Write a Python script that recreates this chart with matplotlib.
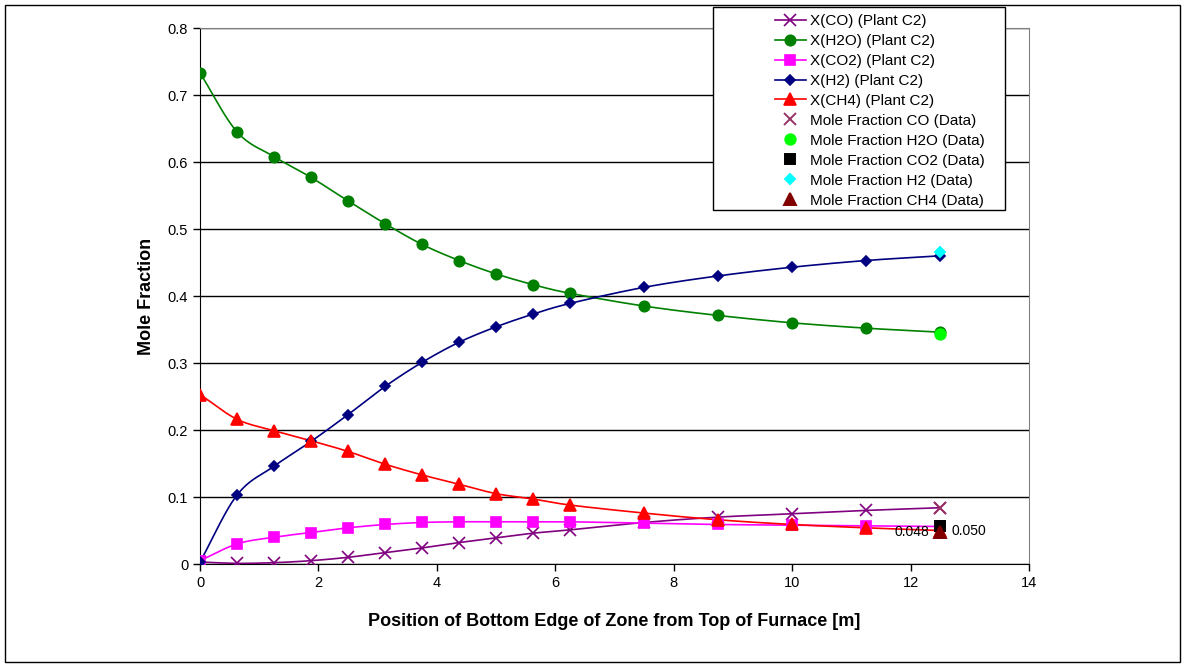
import numpy as np
import matplotlib
matplotlib.use("Agg")
import matplotlib.pyplot as plt
from matplotlib.patches import Rectangle

plt.rcParams['font.family'] = ['Liberation Sans', 'DejaVu Sans']

# Zone bottom-edge positions [m]
position = [0, 0.625, 1.25, 1.875, 2.5, 3.125, 3.75, 4.375, 5.0, 5.625,
            6.25, 7.5, 8.75, 10.0, 11.25, 12.5]

# Model mole fractions (Plant C2)
x_co = [0.003, 0.001, 0.002, 0.005, 0.010, 0.017, 0.024, 0.032, 0.039, 0.046,
        0.051, 0.062, 0.070, 0.075, 0.080, 0.084]
x_h2o = [0.733, 0.645, 0.608, 0.577, 0.542, 0.508, 0.477, 0.453, 0.433, 0.417,
         0.404, 0.385, 0.371, 0.360, 0.352, 0.346]
x_co2 = [0.005, 0.030, 0.040, 0.047, 0.054, 0.059, 0.062, 0.063, 0.063, 0.063,
         0.063, 0.061, 0.059, 0.058, 0.057, 0.056]
x_h2 = [0.003, 0.103, 0.146, 0.183, 0.223, 0.265, 0.301, 0.331, 0.354, 0.373,
        0.389, 0.413, 0.430, 0.443, 0.453, 0.460]
x_ch4 = [0.253, 0.216, 0.199, 0.184, 0.168, 0.149, 0.133, 0.119, 0.105, 0.097,
         0.088, 0.076, 0.066, 0.059, 0.054, 0.050]

# Measured outlet mole fractions
data_pos = 12.5
data_co = 0.084
data_h2o = 0.343
data_co2 = 0.057
data_h2 = 0.465
data_ch4 = 0.048


def smooth(xs, ys, n=20):
    """Catmull-Rom curve through the given points."""
    xs = np.asarray(xs, float)
    ys = np.asarray(ys, float)
    px = np.concatenate([[2 * xs[0] - xs[1]], xs, [2 * xs[-1] - xs[-2]]])
    py = np.concatenate([[2 * ys[0] - ys[1]], ys, [2 * ys[-1] - ys[-2]]])
    outx, outy = [], []
    t = np.linspace(0, 1, n, endpoint=False)
    for i in range(1, len(px) - 2):
        for arr, out in ((px, outx), (py, outy)):
            p0, p1, p2, p3 = arr[i - 1], arr[i], arr[i + 1], arr[i + 2]
            out.extend(0.5 * ((2 * p1) + (-p0 + p2) * t
                              + (2 * p0 - 5 * p1 + 4 * p2 - p3) * t ** 2
                              + (-p0 + 3 * p1 - 3 * p2 + p3) * t ** 3))
    outx.append(xs[-1])
    outy.append(ys[-1])
    return np.array(outx), np.array(outy)


W, H = 1185, 667
fig = plt.figure(figsize=(W / 100, H / 100), dpi=100)
fig.patches.append(Rectangle((0.004, 0.007), 0.992, 0.986, transform=fig.transFigure,
                             fill=False, edgecolor='black', linewidth=1.0))
ax = fig.add_axes([0.1688, 0.1544, 0.6996, 0.8036])

series = [
    (x_co, '#800080', 'x', 8, 'X(CO) (Plant C2)'),
    (x_h2o, '#008000', 'o', 7.5, 'X(H2O) (Plant C2)'),
    (x_co2, '#FF00FF', 's', 7.5, 'X(CO2) (Plant C2)'),
    (x_h2, '#000080', 'D', 5.5, 'X(H2) (Plant C2)'),
    (x_ch4, '#FF0000', '^', 8.5, 'X(CH4) (Plant C2)'),
]
handles = []
for ys, col, mk, ms, lab in series:
    sx, sy = smooth(position, ys)
    ax.plot(sx, sy, color=col, linewidth=1.2, zorder=3)
    ax.plot(position, ys, linestyle='none', marker=mk, markersize=ms,
            color=col, markeredgecolor=col, markeredgewidth=1.2, zorder=4)
    handles.append(plt.Line2D([], [], color=col, marker=mk, markersize=ms,
                              markeredgewidth=1.2, linewidth=1.2, label=lab))

data_series = [
    (data_co, '#993366', 'x', 9, 'Mole Fraction CO (Data)'),
    (data_h2o, '#00FF00', 'o', 7.5, 'Mole Fraction H2O (Data)'),
    (data_co2, '#000000', 's', 7.5, 'Mole Fraction CO2 (Data)'),
    (data_h2, '#00FFFF', 'D', 5.5, 'Mole Fraction H2 (Data)'),
    (data_ch4, '#800000', '^', 8.5, 'Mole Fraction CH4 (Data)'),
]
for val, col, mk, ms, lab in data_series:
    ax.plot([data_pos], [val], linestyle='none', marker=mk, markersize=ms,
            color=col, markeredgecolor=col, markeredgewidth=1.4, zorder=5)
    handles.append(plt.Line2D([], [], linestyle='none', color=col, marker=mk,
                              markersize=ms, markeredgewidth=1.4, label=lab))

ax.annotate(f"{data_ch4:.3f}", (data_pos, data_ch4), xytext=(-8, 0),
            textcoords='offset points', ha='right', va='center', fontsize=10, zorder=6)
ax.annotate(f"{x_ch4[-1]:.3f}", (data_pos, x_ch4[-1]), xytext=(8, 0),
            textcoords='offset points', ha='left', va='center', fontsize=10, zorder=6)

ax.set_xlim(0, 14)
ax.set_ylim(0, 0.8)
ax.set_xticks(np.arange(0, 15, 2))
ax.set_yticks(np.arange(0, 0.81, 0.1))
ax.set_yticklabels([f"{v:g}" for v in np.round(np.arange(0, 0.81, 0.1), 1)])
ax.yaxis.grid(True, color='black', linewidth=1.0)
ax.set_axisbelow(True)
ax.tick_params(axis='both', direction='out', length=5, labelsize=10.5, width=1)
for side in ('top', 'right'):
    ax.spines[side].set_color('#808080')
for side in ('left', 'bottom'):
    ax.spines[side].set_color('black')

ax.set_xlabel('Position of Bottom Edge of Zone from Top of Furnace [m]',
              fontsize=13, fontweight='bold', labelpad=17)
ax.set_ylabel('Mole Fraction', fontsize=13, fontweight='bold', labelpad=9)

# Legend box, wider than its contents
fig.patches.append(Rectangle((713 / W, 1 - 210 / H), (1005 - 713) / W, (210 - 7) / H,
                             transform=fig.transFigure, facecolor='white',
                             edgecolor='black', linewidth=1.0, zorder=9))
leg = fig.legend(handles=handles, loc='upper left',
                 bbox_to_anchor=(775 / W, 1 - 14 / H), fontsize=11,
                 frameon=False, borderpad=0, labelspacing=0.39,
                 handlelength=2.0, handletextpad=0.3, borderaxespad=0)
leg.set_zorder(10)

fig.savefig('out.png', dpi=100)
